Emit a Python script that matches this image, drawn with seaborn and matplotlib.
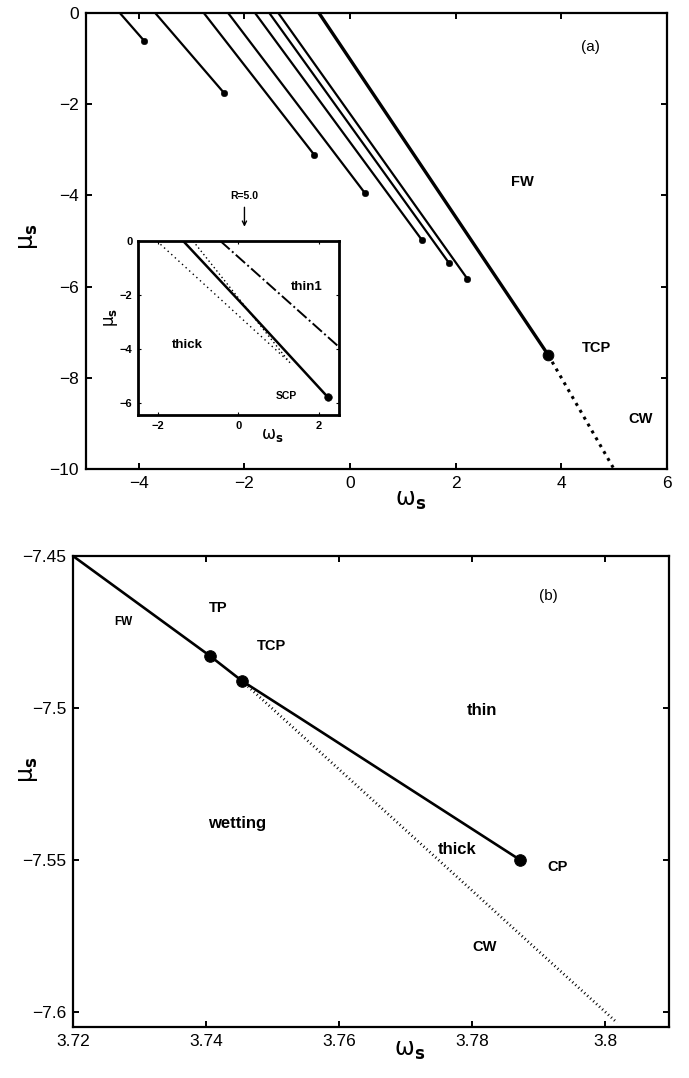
import numpy as np
import pandas as pd
import matplotlib
matplotlib.use("Agg")
import matplotlib.pyplot as plt
import seaborn as sns

# ---------------- data ----------------
# panel (a): first-order lines, start at mu=0, end at critical points
line_start_omega = [-4.36, -3.69, -2.77, -2.31, -1.80, -1.53, -1.36]
line_end_omega = [-3.90, -2.39, -0.68, 0.28, 1.36, 1.87, 2.22]
line_end_mu = [-0.61, -1.75, -3.11, -3.95, -4.98, -5.48, -5.83]
fw_omega = [-0.59, 3.75]
fw_mu = [0.0, -7.50]
cw_omega = [3.75, 4.98]
cw_mu = [-7.50, -9.97]

# inset (R=5.0)
ins_solid_omega = [-1.375, 0.225, 2.23]
ins_solid_mu = [0.0, -2.55, -5.80]
ins_dot1_omega = [-2.03, 1.20]
ins_dot1_mu = [0.0, -4.40]
ins_dot2_omega = [-1.13, 1.30]
ins_dot2_mu = [0.0, -4.55]
ins_dashdot_omega = [-0.45, 2.48]
ins_dashdot_mu = [0.0, -3.90]

# panel (b)
b_solid_omega = [3.72, 3.7406, 3.7454, 3.7541, 3.7872]
b_solid_mu = [-7.45, -7.4829, -7.4911, -7.5033, -7.55]
b_points_omega = [3.7406, 3.7454, 3.7872]
b_points_mu = [-7.4829, -7.4911, -7.55]
b_dotted_omega = [3.7454, 3.8018]
b_dotted_mu = [-7.4911, -7.6036]

a_xticks = [-4, -2, 0, 2, 4, 6]
a_yticks = [0, -2, -4, -6, -8, -10]
ins_xticks = [-2, 0, 2]
ins_yticks = [0, -2, -4, -6]
b_xticks = [3.72, 3.74, 3.76, 3.78, 3.8]
b_xlabels = ["3.72", "3.74", "3.76", "3.78", "3.8"]
b_yticks = [-7.45, -7.5, -7.55, -7.6]
b_ylabels = ["\u22127.45", "\u22127.5", "\u22127.55", "\u22127.6"]

# ---------------- style ----------------
sns.set_style("ticks")
plt.rcParams["font.family"] = ["Liberation Sans", "DejaVu Sans"]
plt.rcParams["text.color"] = "black"
plt.rcParams["axes.labelcolor"] = "black"
plt.rcParams["axes.linewidth"] = 1.6
plt.rcParams["xtick.direction"] = "in"
plt.rcParams["ytick.direction"] = "in"
plt.rcParams["xtick.top"] = True
plt.rcParams["ytick.right"] = True
plt.rcParams["xtick.major.width"] = 1.4
plt.rcParams["ytick.major.width"] = 1.4
plt.rcParams["xtick.major.size"] = 4
plt.rcParams["ytick.major.size"] = 4
plt.rcParams["xtick.color"] = "black"
plt.rcParams["ytick.color"] = "black"
plt.rcParams["xtick.labelcolor"] = "black"
plt.rcParams["ytick.labelcolor"] = "black"
plt.rcParams["axes.edgecolor"] = "black"

W, H = 689, 1078
fig = plt.figure(figsize=(6.89, 10.78), dpi=100)
axA = fig.add_axes([0.1248, 0.565, 0.8433, 0.423])
axB = fig.add_axes([0.106, 0.0473, 0.865, 0.4369])
axI = fig.add_axes([0.2003, 0.615, 0.2917, 0.1614])

XLAB = r"$\mathrm{\omega}_{\mathbf{s}}$"
YLAB = r"$\mathrm{\mu}_{\mathbf{s}}$"


def line(ax, xs, ys, **kw):
    df = pd.DataFrame({"x": xs, "y": ys})
    sns.lineplot(data=df, x="x", y="y", ax=ax, sort=False, estimator=None,
                 color="black", **kw)


# ---------- panel (a) ----------
for xs, xe, ye in zip(line_start_omega, line_end_omega, line_end_mu):
    line(axA, [xs, xe], [0.0, ye], linewidth=1.6)
sns.scatterplot(x=line_end_omega, y=line_end_mu, ax=axA, color="black", s=22,
                edgecolor="black", zorder=5)
line(axA, fw_omega, fw_mu, linewidth=2.4)
line(axA, cw_omega, cw_mu, linewidth=2.2, linestyle=(0, (1, 1.6)))
sns.scatterplot(x=[fw_omega[-1]], y=[fw_mu[-1]], ax=axA, color="black", s=60,
                edgecolor="black", zorder=5)

axA.set_xlim(-5, 6)
axA.set_ylim(-10, 0)
axA.set_xticks(a_xticks)
axA.set_yticks(a_yticks)
axA.tick_params(labelsize=12.5, pad=5)
axA.set_xlabel(XLAB, fontsize=17)
axA.set_ylabel(YLAB, fontsize=17)
axA.xaxis.set_label_coords(0.558, -0.046)
axA.yaxis.set_label_coords(-0.079, 0.51)
fig.text(590 / W, 1 - 47 / H, "(a)", fontsize=11, ha="center", va="center")
txt_kw = dict(fontsize=10.5, fontweight="bold", ha="center", va="center")
axA.text(3.26, -3.7, "FW", **txt_kw)
axA.text(4.67, -7.35, "TCP", **txt_kw)
axA.text(5.5, -8.9, "CW", **txt_kw)
axA.annotate("R=5.0", xy=(-2.0, -4.75), xytext=(-2.0, -4.02),
             ha="center", va="center", fontsize=7.5, fontweight="bold",
             arrowprops=dict(arrowstyle="->", color="black", lw=1.0))

# ---------- inset ----------
line(axI, ins_dot1_omega, ins_dot1_mu, linewidth=1.0, linestyle=(0, (1, 2.5)))
line(axI, ins_dot2_omega, ins_dot2_mu, linewidth=1.0, linestyle=(0, (1, 2.0)))
line(axI, ins_solid_omega, ins_solid_mu, linewidth=1.8)
line(axI, ins_dashdot_omega, ins_dashdot_mu, linewidth=1.4, linestyle="-.")
sns.scatterplot(x=[ins_solid_omega[-1]], y=[ins_solid_mu[-1]], ax=axI,
                color="black", s=30, edgecolor="black", zorder=5)
axI.set_xlim(-2.5, 2.5)
axI.set_ylim(-6.45, 0)
axI.set_xticks(ins_xticks)
axI.set_yticks(ins_yticks)
axI.tick_params(labelsize=8, pad=4, length=2, width=0.8)
for lab in axI.get_xticklabels() + axI.get_yticklabels():
    lab.set_fontweight("bold")
for sp in axI.spines.values():
    sp.set_linewidth(2.0)
axI.set_xlabel(XLAB, fontsize=12)
axI.set_ylabel(YLAB, fontsize=12)
axI.xaxis.set_label_coords(0.67, -0.07)
axI.yaxis.set_label_coords(-0.09, 0.56)
axI.text(1.7, -1.72, "thin1", fontsize=9.5, fontweight="bold", ha="center", va="center")
axI.text(-1.28, -3.85, "thick", fontsize=9.5, fontweight="bold", ha="center", va="center")
axI.text(1.2, -5.75, "SCP", fontsize=7.5, fontweight="bold", ha="center", va="center")

# ---------- panel (b) ----------
line(axB, b_dotted_omega, b_dotted_mu, linewidth=2.0, linestyle=(0, (0.35, 1.1)))
line(axB, b_solid_omega, b_solid_mu, linewidth=1.9)
sns.scatterplot(x=b_points_omega, y=b_points_mu, ax=axB, color="black", s=70,
                edgecolor="black", zorder=5)
axB.set_xlim(3.72, 3.8096)
axB.set_ylim(-7.605, -7.45)
axB.set_xticks(b_xticks)
axB.set_xticklabels(b_xlabels)
axB.set_yticks(b_yticks)
axB.set_yticklabels(b_ylabels)
axB.tick_params(labelsize=12.5, pad=5)
axB.set_xlabel(XLAB, fontsize=17)
axB.set_ylabel(YLAB, fontsize=17)
axB.xaxis.set_label_coords(0.565, -0.028)
axB.yaxis.set_label_coords(-0.055, 0.546)
fig.text(548 / W, 1 - 596 / H, "(b)", fontsize=11, ha="center", va="center")
bkw = dict(fontweight="bold", ha="center", va="center")
axB.text(3.7275, -7.4717, "FW", fontsize=8.5, **bkw)
axB.text(3.7418, -7.4671, "TP", fontsize=10.5, **bkw)
axB.text(3.7499, -7.4796, "TCP", fontsize=10.5, **bkw)
axB.text(3.7815, -7.5010, "thin", fontsize=12, **bkw)
axB.text(3.7447, -7.5381, "wetting", fontsize=12, **bkw)
axB.text(3.7777, -7.5467, "thick", fontsize=12, **bkw)
axB.text(3.7928, -7.5523, "CP", fontsize=10.5, **bkw)
axB.text(3.7819, -7.5786, "CW", fontsize=10.5, **bkw)

fig.savefig("out.png", dpi=100)
